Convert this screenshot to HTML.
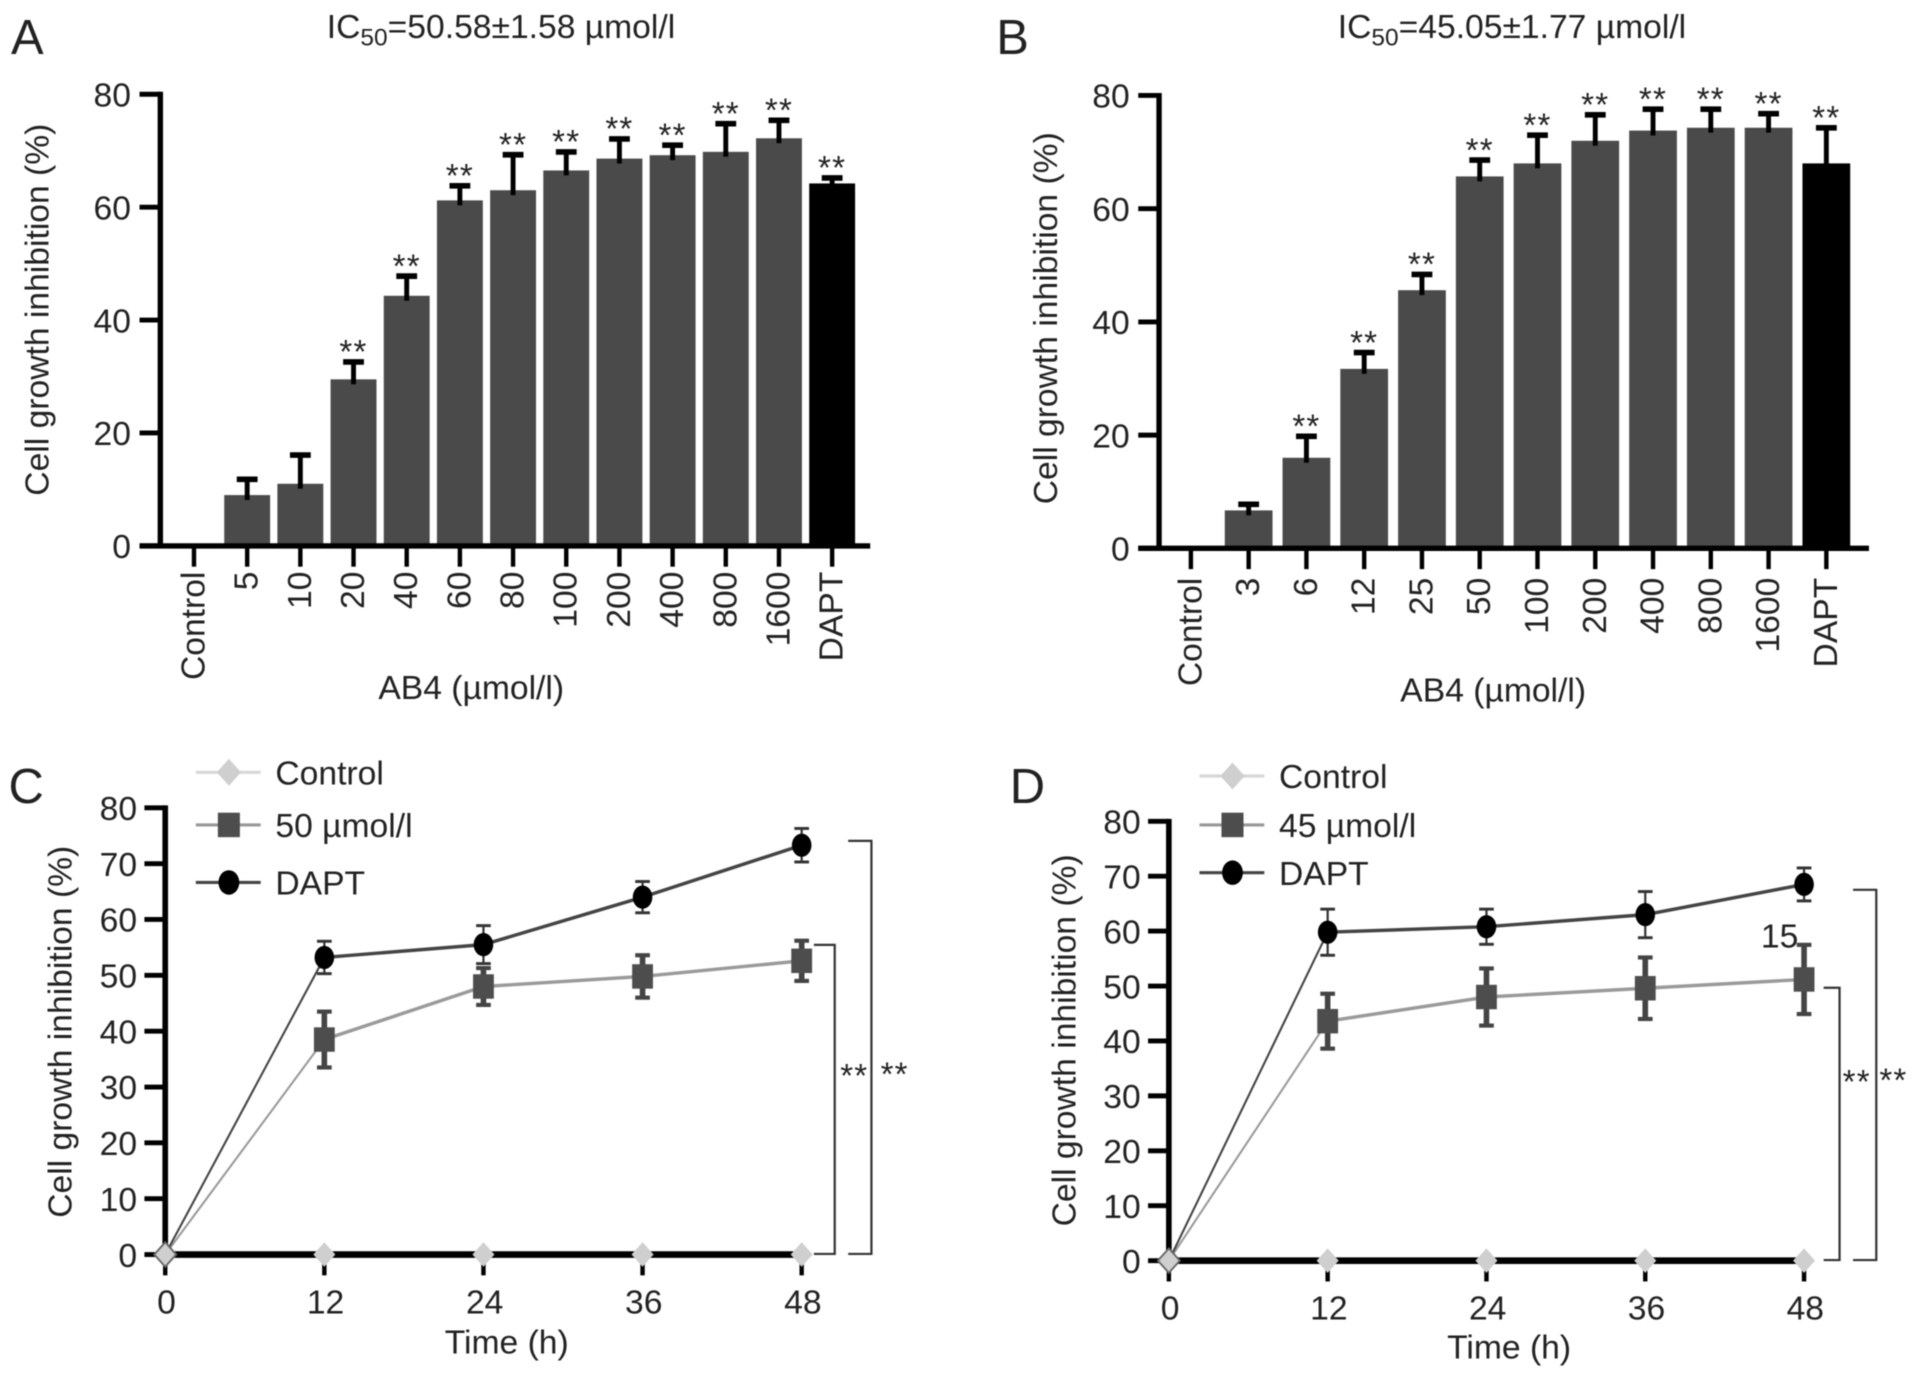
<!DOCTYPE html>
<html lang="en">
<head>
<meta charset="utf-8">
<title>Cell growth inhibition charts</title>
<style>
html,body{margin:0;padding:0;background:#fff;width:1913px;height:1374px;overflow:hidden}
svg{display:block;filter:blur(0.5px)}
text{font-family:"Liberation Sans",sans-serif;fill:#222}
</style>
</head>
<body>
<svg id="figure" xmlns="http://www.w3.org/2000/svg" width="1913" height="1374" viewBox="0 0 1563 1122.6">
  <text x="9" y="44" font-size="40">A</text>
  <text x="814" y="44" font-size="40">B</text>
  <text x="7" y="656" font-size="40">C</text>
  <text x="825" y="656" font-size="40">D</text>
  <text x="267" y="31" font-size="27.5">IC<tspan font-size="20" dy="6">50</tspan><tspan dy="-6">=50.58±1.58 µmol/l</tspan></text>
  <text x="1093" y="31" font-size="27.5">IC<tspan font-size="20" dy="6">50</tspan><tspan dy="-6">=45.05±1.77 µmol/l</tspan></text>
  <text x="1454" y="774" font-size="27.5" text-anchor="middle">15</text>
</svg>
<script>
const aCategories = ["Control","5","10","20","40","60","80","100","200","400","800","1600","DAPT"];
const aValues = [0,9,11,29.5,44.3,61.2,63,66.5,68.6,69.2,69.8,72.2,64.2];
const aErrors = [0,3,5.3,3.3,3.7,2.8,6.5,3.5,3.7,2,5.2,3.4,1.2];
const aStars = [0,0,0,1,1,1,1,1,1,1,1,1,1];

const bCategories = ["Control","3","6","12","25","50","100","200","400","800","1600","DAPT"];
const bValues = [0,6.7,16,31.7,45.6,65.7,68,72,73.8,74.3,74.3,68];
const bErrors = [0,1.3,4,3.1,3,3.1,5.2,4.8,4,3.5,2.7,6.5];
const bStars = [0,0,1,1,1,1,1,1,1,1,1,1];

const barTicks = [0,20,40,60,80];
const lineTicks = [0,10,20,30,40,50,60,70,80];
const hours = [0,12,24,36,48];

const cControl = [0,0,0,0,0];
const cDose = [0,38.5,48,49.8,52.6];
const cDoseErr = [0,5,3.3,3.8,3.6];
const cDapt = [0,53.2,55.5,64,73.3];
const cDaptErr = [0,2.9,3.4,2.8,3];

const dControl = [0,0,0,0,0];
const dDose = [0,43.6,48,49.6,51.2];
const dDoseErr = [0,5,5.2,5.6,6.3];
const dDapt = [0,59.8,60.8,63,68.5];
const dDaptErr = [0,4.2,3.2,4.2,3];

const svg = document.getElementById('figure');
const NS = 'http://www.w3.org/2000/svg';
function el(tag, attrs, text) {
  const e = document.createElementNS(NS, tag);
  for (const k in attrs) e.setAttribute(k, attrs[k]);
  if (text !== undefined) e.textContent = text;
  svg.appendChild(e);
  return e;
}
function label(e, name) {
  
  
  return e;
}
function line(x1, y1, x2, y2, color, w) {
  return el('line', {x1, y1, x2, y2, stroke: color, 'stroke-width': w});
}
function vText(x, y, size, anchor, str) {
  return el('text', {x, y, 'font-size': size, 'text-anchor': anchor, 'dominant-baseline': 'central',
    transform: 'rotate(-90 ' + x + ' ' + y + ')'}, str);
}

function barChart(p, cats, vals, errs, stars) {
  const yS = v => p.y0 + (p.y80 - p.y0) * v / 80;
  const xS = i => p.x0 + p.step * i;

  cats.forEach((c, i) => {
    const isDapt = c === 'DAPT';
    const x = xS(i);
    if (vals[i] > 0) {
      const bar = el('rect', {x: x - p.barW / 2, y: yS(vals[i]), width: p.barW, height: p.y0 - yS(vals[i]), fill: isDapt ? '#000' : '#4a4a4a'});
      label(bar, 'bar-' + p.id + '-' + c.toLowerCase());
      const top = yS(vals[i] + errs[i]);
      const stem = line(x, yS(vals[i]) + 4, x, top, '#000', 4);
      label(stem, 'error-bar-' + p.id + '-' + c.toLowerCase());
      const cap = line(x - 8.5, top + 1, x + 8.5, top + 1, '#000', 4.6);
      label(cap, 'error-cap-' + p.id + '-' + c.toLowerCase());
      if (stars[i]) {
        const s = el('text', {x, y: top + 2, 'font-size': 27, 'text-anchor': 'middle', fill: '#222', 'letter-spacing': '1'}, '**');
        label(s, 'significance-' + p.id + '-' + c.toLowerCase());
      }
    }
    const tick = line(x, p.y0, x, p.y0 + 17, '#000', 3.6);
    label(tick, 'x-tick-' + p.id + '-' + c.toLowerCase());
    const t = vText(x, p.labelTop, 27.5, 'end', c);
    label(t, 'x-tick-label-' + p.id + '-' + c.toLowerCase());
  });

  barTicks.forEach(v => {
    const tick = line(p.axisX - 17, yS(v), p.axisX, yS(v), '#000', 4);
    label(tick, 'y-tick-' + p.id + '-' + v);
    const t = el('text', {x: p.axisX - 24, y: yS(v) + 10, 'font-size': 27.5, 'text-anchor': 'end'}, String(v));
    label(t, 'y-tick-label-' + p.id + '-' + v);
  });
  const yAxis = line(p.axisX, p.y80 - 2, p.axisX, p.y0 + 2, '#000', 4.4);
  label(yAxis, 'y-axis-' + p.id);
  const xAxis = line(p.axisX - 17, p.y0, p.xEnd, p.y0, '#000', 4.4);
  label(xAxis, 'x-axis-' + p.id);
  const yTitle = vText(p.yTitleX, p.yTitleY, 27.5, 'middle', 'Cell growth inhibition (%)');
  label(yTitle, 'y-axis-title-' + p.id);
  const xTitle = el('text', {x: p.xTitleX, y: p.xTitleY, 'font-size': 27.5, 'text-anchor': 'middle'}, 'AB4 (µmol/l)');
  label(xTitle, 'x-axis-title-' + p.id);
}

function diamond(cx, cy, r, fill, stroke) {
  return el('polygon', {points: [cx, cy - r, cx + r * 0.9, cy, cx, cy + r, cx - r * 0.9, cy].join(' '), fill, stroke: stroke || 'none', 'stroke-width': 1.5});
}

function lineChart(p, control, dose, doseErr, dapt, daptErr) {
  const yS = v => p.y0 + (p.y80 - p.y0) * v / 80;
  const xS = h => p.x0 + (p.x48 - p.x0) * h / 48;

  lineTicks.forEach(v => {
    const tick = line(p.x0 - 17, yS(v), p.x0, yS(v), '#000', 4);
    label(tick, 'y-tick-' + p.id + '-' + v);
    const t = el('text', {x: p.x0 - 23, y: yS(v) + 10, 'font-size': 27.5, 'text-anchor': 'end'}, String(v));
    label(t, 'y-tick-label-' + p.id + '-' + v);
  });
  hours.forEach(h => {
    const tick = line(xS(h), p.y0, xS(h), p.y0 + 17, '#000', 3.6);
    label(tick, 'x-tick-' + p.id + '-' + h);
    const t = el('text', {x: xS(h) + 1, y: p.y0 + 48, 'font-size': 27.5, 'text-anchor': 'middle'}, String(h));
    label(t, 'x-tick-label-' + p.id + '-' + h);
  });
  const yAxis = line(p.x0, p.y80 - 2, p.x0, p.y0 + 2, '#000', 4.6);
  label(yAxis, 'y-axis-' + p.id);
  const xAxis = line(p.x0, p.y0, p.x48, p.y0, '#000', 5.4);
  label(xAxis, 'x-axis-' + p.id);

  const series = [
    {key: 'dose', vals: dose, errs: doseErr, color: '#9a9a9a', errColor: '#444', errW: 4.6, capW: 10, capT: 3.4},
    {key: 'dapt', vals: dapt, errs: daptErr, color: '#444', errColor: '#333', errW: 1.8, capW: 10, capT: 2.4}
  ];
  series.forEach(s => {
    hours.forEach((h, i) => {
      if (i < hours.length - 1) {
        const seg = line(xS(h), yS(s.vals[i]), xS(hours[i + 1]), yS(s.vals[i + 1]), s.color, i === 0 ? 1.7 : 2.8);
        label(seg, 'line-segment-' + p.id + '-' + s.key + '-' + h);
      }
    });
  });
  series.forEach(s => {
    hours.forEach((h, i) => {
      if (s.errs[i] > 0) {
        const x = xS(h), hi = yS(s.vals[i] + s.errs[i]), lo = yS(s.vals[i] - s.errs[i]);
        const bar = line(x, hi, x, lo, s.errColor, s.errW);
        label(bar, 'error-bar-' + p.id + '-' + s.key + '-' + h);
        const capHi = line(x - s.capW / 2 - 1, hi, x + s.capW / 2 + 1, hi, s.errColor, s.capT);
        label(capHi, 'error-cap-high-' + p.id + '-' + s.key + '-' + h);
        const capLo = line(x - s.capW / 2 - 1, lo, x + s.capW / 2 + 1, lo, s.errColor, s.capT);
        label(capLo, 'error-cap-low-' + p.id + '-' + s.key + '-' + h);
      }
      if (i === 0) return;
      if (s.key === 'dose') {
        const m = el('rect', {x: xS(h) - 8.5, y: yS(s.vals[i]) - 10, width: 17, height: 20, fill: '#4d4d4d'});
        label(m, 'point-' + p.id + '-dose-' + h);
      } else {
        const m = el('ellipse', {cx: xS(h), cy: yS(s.vals[i]), rx: 8, ry: 9.5, fill: '#000'});
        label(m, 'point-' + p.id + '-dapt-' + h);
      }
    });
  });
  hours.forEach((h, i) => {
    const m = diamond(xS(h), yS(control[i]), 10, '#cfcfcf', i === 0 ? '#666' : 'none');
    label(m, 'point-' + p.id + '-control-' + h);
  });

  const bi = el('polyline', {points: [p.innerX0, p.innerTop, p.innerX, p.innerTop, p.innerX, p.y0 - 0.5, p.innerX0, p.y0 - 0.5].join(' '), fill: 'none', stroke: '#333', 'stroke-width': 1.8});
  label(bi, 'bracket-dose-' + p.id);
  const bo = el('polyline', {points: [p.outerX0, p.outerTop, p.outerX, p.outerTop, p.outerX, p.y0 - 0.5, p.outerX0, p.y0 - 0.5].join(' '), fill: 'none', stroke: '#333', 'stroke-width': 1.8});
  label(bo, 'bracket-dapt-' + p.id);
  const s1 = el('text', {x: p.star1X, y: p.starY, 'font-size': 27, 'text-anchor': 'middle', 'letter-spacing': '1'}, '**');
  label(s1, 'significance-dose-' + p.id);
  const s2 = el('text', {x: p.star2X, y: p.starY - 1, 'font-size': 27, 'text-anchor': 'middle', 'letter-spacing': '1'}, '**');
  label(s2, 'significance-dapt-' + p.id);

  const yTitle = vText(p.yTitleX, p.yTitleY, 27.5, 'middle', 'Cell growth inhibition (%)');
  label(yTitle, 'y-axis-title-' + p.id);
  const xTitle = el('text', {x: p.xTitleX, y: p.xTitleY, 'font-size': 27.5, 'text-anchor': 'middle'}, 'Time (h)');
  label(xTitle, 'x-axis-title-' + p.id);

  const lx0 = p.legendX, lx1 = p.legendX + 53, mx = p.legendX + 27, tx = p.legendX + 65;
  const l1 = line(lx0, p.legendY[0], lx1, p.legendY[0], '#d8d8d8', 2.6);
  label(l1, 'legend-line-control-' + p.id);
  const m1 = diamond(mx, p.legendY[0], 11, '#cfcfcf');
  label(m1, 'legend-marker-control-' + p.id);
  const t1 = el('text', {x: tx, y: p.legendY[0] + 10, 'font-size': 27.5}, 'Control');
  label(t1, 'legend-entry-control-' + p.id);
  const l2 = line(lx0, p.legendY[1], lx1, p.legendY[1], '#999', 2.6);
  label(l2, 'legend-line-dose-' + p.id);
  const m2 = el('rect', {x: mx - 9, y: p.legendY[1] - 10, width: 18, height: 20, fill: '#4d4d4d'});
  label(m2, 'legend-marker-dose-' + p.id);
  const t2 = el('text', {x: tx, y: p.legendY[1] + 10, 'font-size': 27.5}, p.doseName);
  label(t2, 'legend-entry-dose-' + p.id);
  const l3 = line(lx0, p.legendY[2], lx1, p.legendY[2], '#444', 2.6);
  label(l3, 'legend-line-dapt-' + p.id);
  const m3 = el('ellipse', {cx: mx, cy: p.legendY[2], rx: 8.5, ry: 10, fill: '#000'});
  label(m3, 'legend-marker-dapt-' + p.id);
  const t3 = el('text', {x: tx, y: p.legendY[2] + 10, 'font-size': 27.5}, 'DAPT');
  label(t3, 'legend-entry-dapt-' + p.id);
}

barChart({id: 'a', axisX: 131, x0: 158.5, step: 43.45, barW: 37.5, y0: 446, y80: 77, xEnd: 711, labelTop: 467,
  yTitleX: 31, yTitleY: 253, xTitleX: 385, xTitleY: 571}, aCategories, aValues, aErrors, aStars);
barChart({id: 'b', axisX: 947, x0: 973, step: 47.2, barW: 39, y0: 448, y80: 78, xEnd: 1527, labelTop: 472,
  yTitleX: 855, yTitleY: 260, xTitleX: 1220, xTitleY: 573}, bCategories, bValues, bErrors, bStars);
lineChart({id: 'c', x0: 135, x48: 655, y0: 1025, y80: 660, innerX0: 665, innerX: 682, innerTop: 772, outerX0: 693, outerX: 712, outerTop: 687,
  star1X: 698, star2X: 731, starY: 888, yTitleX: 50, yTitleY: 843, xTitleX: 414, xTitleY: 1106,
  legendX: 160, legendY: [631, 674, 721], doseName: '50 µmol/l'}, cControl, cDose, cDoseErr, cDapt, cDaptErr);
lineChart({id: 'd', x0: 955, x48: 1474, y0: 1030, y80: 671, innerX0: 1490, innerX: 1503, innerTop: 807, outerX0: 1514, outerX: 1533, outerTop: 727,
  star1X: 1517, star2X: 1547, starY: 893, yTitleX: 870, yTitleY: 850, xTitleX: 1233, xTitleY: 1110,
  legendX: 980, legendY: [634, 674, 713], doseName: '45 µmol/l'}, dControl, dDose, dDoseErr, dDapt, dDaptErr);
</script>
</body>
</html>
